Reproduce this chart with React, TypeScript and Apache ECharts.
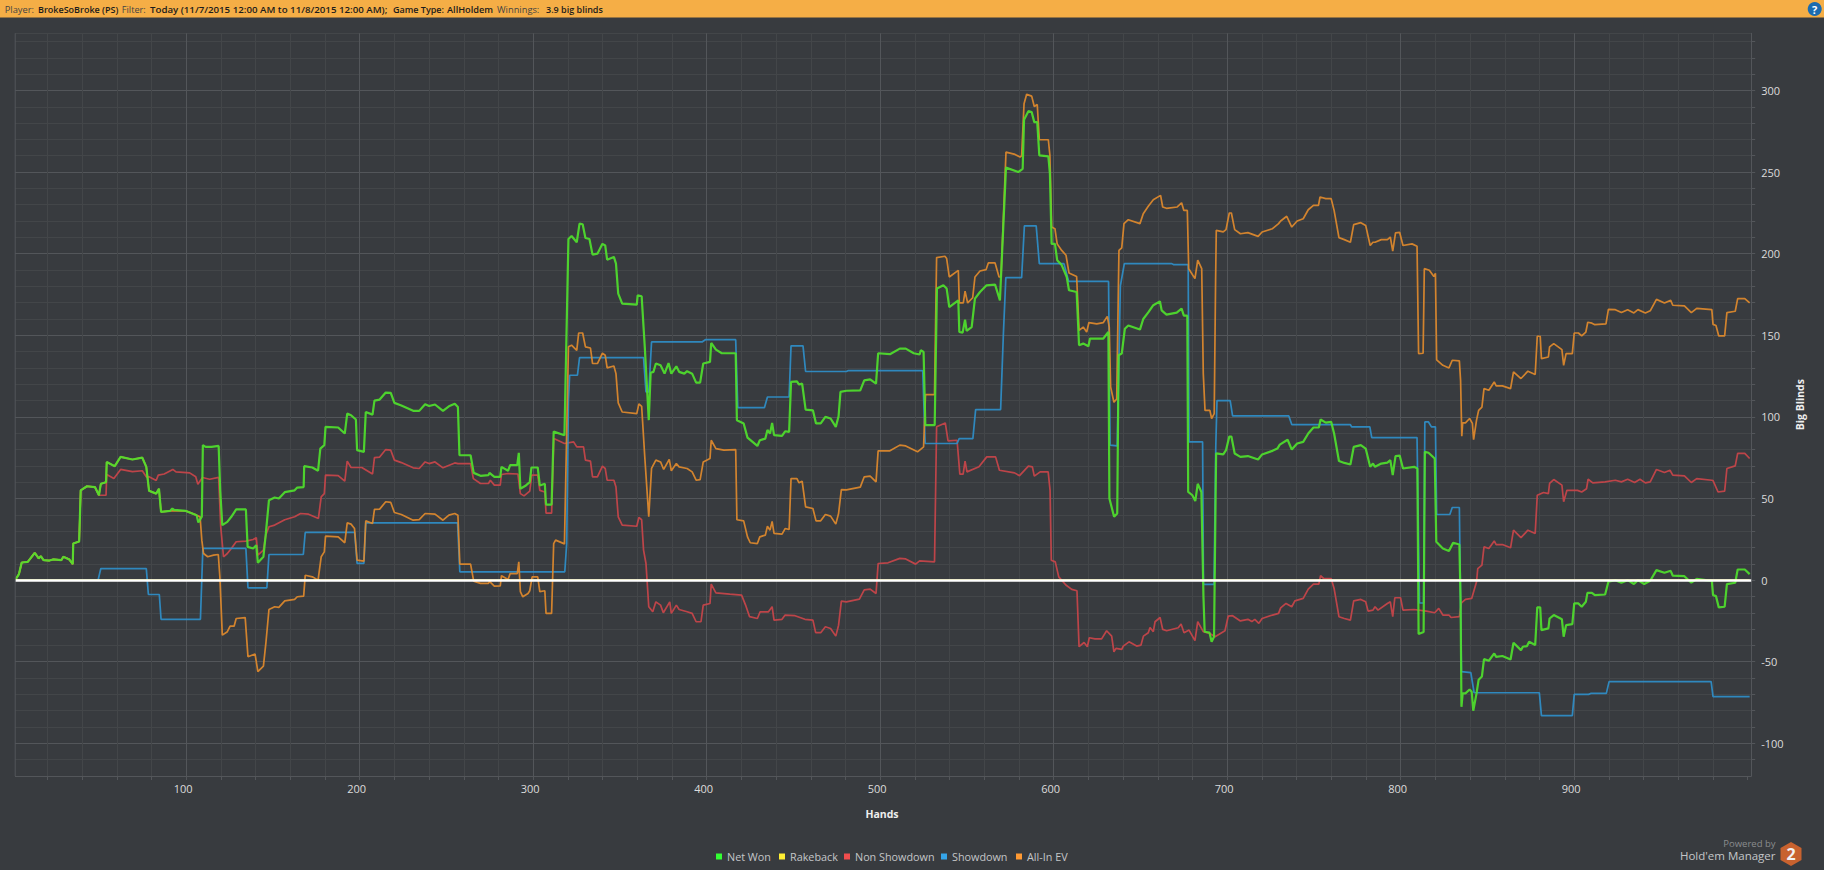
import React, { useEffect, useRef } from "react";
import * as echarts from "echarts";

const BG = "#383b3f";
const FONT = "'Open Sans', 'Noto Sans', sans-serif";

const netWon: number[][] = [[1.4,0],[3.6,3.7],[5.2,10.8],[8.7,11.2],[12.7,16.7],[15,13.3],[16.2,14.7],[17.8,12.2],[21.2,12],[23.5,12.7],[28,12.2],[29.2,14.3],[32.6,12.7],[34.6,9.8],[34.9,22.4],[38.3,23.7],[39.2,55],[42.8,57.5],[47.4,57],[49.7,52],[50.8,59],[53.8,60],[54.2,72.4],[58.8,69.8],[62.2,75.5],[69,73.9],[74.7,75],[77,69.4],[78.6,54.7],[82.7,53],[84.3,56],[85.5,41.8],[90.7,42.4],[92,43.9],[93,43],[99.8,42.4],[106,39.8],[107,35.3],[109,38.8],[109.6,82.7],[111.2,81.6],[114.6,81.6],[118.7,82.2],[119.6,55],[120.8,33.7],[123.7,35.7],[126,38.8],[128.8,43.3],[134.4,43.3],[135.4,20.4],[138.6,19.4],[140.4,21.4],[141.3,10.6],[144.5,14.3],[145.9,28.6],[147.7,49],[151,50.6],[153.4,50],[156.8,53.9],[162.5,55],[164,56.7],[167.7,57],[168,69.8],[172.7,69],[176,67],[177.3,80.6],[179.6,82.7],[180.3,93.9],[187.6,93.5],[191.4,89.8],[192.8,102],[195,101],[197.8,98.4],[198.5,79.6],[202.4,78.6],[203.5,103],[207.4,101.4],[208.5,110],[211.5,110.6],[215,114.9],[217.9,114.7],[220,108.6],[224,107],[230.8,103.7],[234.3,103.7],[237.7,107.8],[240,106.7],[243.4,107.6],[248,103.7],[251.4,106.5],[254.8,108],[256.6,106],[257.5,76.5],[263.9,76.5],[265.7,65.7],[269.6,63.9],[274.2,64.3],[274.8,65.7],[277.6,63.3],[281,63.3],[281.7,69.4],[285.5,67],[286.7,70.4],[290.8,70.4],[291.7,78],[292.6,56],[295.8,58],[298,60],[299,69],[302.6,69],[303.8,58],[306.7,59],[307.4,46.3],[310.6,46.3],[311.8,91],[318,88.8],[320.3,209],[322.1,210.8],[325.1,207],[326.7,218.4],[328.5,218],[330.1,209.6],[332.4,209],[334.2,199.4],[337,200],[339.9,206],[341.5,205],[342.6,196.3],[346.5,198],[347.7,193.9],[349,175.5],[351.3,169.4],[359.7,168.8],[360.2,174.5],[362.5,173.9],[364.3,142.9],[366.6,98],[367.7,127],[369.3,127.6],[370.7,132.7],[373.4,131.6],[375.7,126.5],[378,133],[379.6,126.5],[382.5,131],[384.1,127.6],[387.1,126.5],[388.7,128],[391.6,126.5],[393.9,121],[396.2,121],[398,132.7],[401.9,133.7],[402.6,145.3],[405.3,141.2],[408.7,139],[416.7,139],[417.4,98],[421.3,96],[423.5,87.3],[429.2,82.2],[430.6,85.7],[433.8,86.7],[435,92],[436.5,89.8],[437.7,96.3],[438.8,88.8],[443.4,88.4],[445.2,91.2],[447.5,90.8],[448.6,121.4],[452,121.8],[453.2,119.8],[455,120.4],[457,104.5],[461.2,104],[463,96],[465.7,96],[468.4,100],[471.4,99],[474.4,93.9],[476,100.4],[477.1,115.3],[480.5,116],[488.5,116.3],[490.8,122.4],[494.2,123],[497.6,120.4],[498.8,139],[505.6,138.4],[511.3,141.8],[514.7,141.8],[519.3,139],[522.7,138.2],[523.4,140.8],[525,139.8],[526,94.9],[531.4,94.9],[532.7,178.6],[536.4,180.6],[538.3,178.6],[539.8,167.3],[545,171.4],[545.6,152],[547.5,151.6],[548.9,159.6],[549.8,152.7],[552.7,155],[554.6,172.4],[557.5,176.5],[561.3,180.6],[566.2,181],[569,171.4],[572.5,252.7],[579.6,250],[582.1,252],[582.9,282],[585.4,287.3],[587.3,286.7],[588.8,280.6],[590.5,280.6],[591.7,260.2],[596.9,259.6],[597.8,249],[598.8,206],[600.7,206],[602,196],[604.6,193],[607.5,185.7],[608.8,177.6],[613.2,176.5],[614.6,143.9],[617,144.9],[620,143.3],[620.9,148],[624.8,148],[628.6,148],[631.5,152],[632.1,50],[634.8,38.8],[636.6,40.8],[637.4,137.8],[639.2,138.8],[641,154],[643,156],[649.7,153.5],[651.6,160],[654.5,164],[657.4,168.4],[661.2,170.8],[662.2,165.3],[665,162.7],[670.9,163.9],[673.7,166.3],[675,162],[677,162],[677.5,54],[679.9,52],[681.6,48.4],[683,59],[685.1,54],[686.3,-10],[687,-31.6],[689.8,-32.2],[691,-37.8],[692.4,-34.7],[693.6,77.6],[697.7,77],[699.3,79.6],[701.2,88],[702.4,88],[704.3,77.6],[707.6,75.5],[711.9,76],[717.8,73.9],[720.1,77],[726.1,79.2],[728.9,80.6],[730.3,83],[734.8,86],[737.2,80],[740.3,83.7],[743.8,84.7],[746.7,89.8],[749.7,93.5],[752.8,93.5],[753.8,98.4],[756.8,96.5],[759.9,97],[761.6,89.8],[764.4,73],[767.5,71.8],[771,70.8],[772.9,81.6],[777,82.7],[779.8,80.6],[782.4,69.4],[784,71.4],[785.2,69.4],[788.8,71.4],[792.3,72],[794,73.5],[795.4,64.3],[797,76],[799.4,76.3],[801.3,68.4],[807.7,69.4],[809.6,68.4],[810.3,-33],[813.2,-31.8],[813.9,78.6],[816,78],[819.6,74.5],[820.5,23.5],[824.3,19.4],[827.8,17.8],[830.2,22.9],[833.8,21.8],[834.5,-12],[835,-77.6],[835.7,-69.4],[837.3,-69.4],[839.7,-67],[840.9,-68.4],[841.8,-80],[843.7,-69.4],[844.9,-61],[846.8,-59],[848,-48.4],[850.8,-49.4],[853.9,-44.9],[855,-47],[858.6,-46.5],[863.3,-48.6],[865,-38.4],[869.3,-42.9],[870.4,-40.8],[872.8,-40.4],[874,-37.8],[877.5,-39.8],[878.7,-16.7],[880.4,-16.7],[881.1,-30.6],[885.1,-29.6],[885.8,-23.5],[888.2,-21.4],[892.9,-24],[893.9,-34.7],[895.3,-27.6],[898.9,-27],[900,-14.3],[902.4,-14.3],[904.3,-16.3],[906.7,-13.3],[907.6,-7.8],[910.2,-7.8],[911.9,-9.2],[917.8,-8.8],[919.7,-1],[923.7,0],[927.2,-1.6],[930.8,0],[934.4,-2.4],[936.7,0],[940.3,-2.4],[943.8,-0.4],[947.4,6.1],[952,4.5],[955.6,5.7],[956.8,2.7],[963.5,2.4],[967.5,-1.6],[970.6,0.8],[975.8,0],[979.3,-0.4],[980,-9.2],[981.7,-9.8],[983.3,-16.7],[986.7,-16.3],[988,-2.4],[992.8,-1.6],[994.2,6.5],[998.3,6.5],[1001.1,3.7]];

const nonShowdown: number[][] = [[1.4,0],[3.6,3.7],[5.2,10.8],[8.7,11.2],[12.7,16.7],[15,13.3],[16.2,14.7],[17.8,12.2],[21.2,12],[23.5,12.7],[28,12.2],[29.2,14.3],[32.6,12.7],[34.6,9.8],[34.9,22.4],[38.3,23.7],[39.2,55],[42.8,57.5],[47.4,57],[49.7,52],[53.8,52],[54.2,64.7],[58.3,62.2],[62.2,67.8],[69,66.5],[74.7,67],[77,63.3],[78.6,63.3],[82.7,61],[83.9,64.3],[87.3,65],[92.3,67.8],[94.1,66.3],[102,65.7],[105.5,63.3],[106.7,58.8],[109.4,62.9],[113.5,61.8],[118.7,62.9],[119.9,32.7],[121.5,14.3],[123.7,16.3],[126,19.4],[128.8,23.5],[134.4,23.9],[138.6,24.9],[140.4,26],[141.3,15.3],[144.5,18.4],[145.9,27.6],[147.7,32.7],[151,33.7],[156.8,37],[162.5,38.8],[165.9,40.8],[170.5,40.4],[176.2,37.8],[177.8,51],[179.6,53],[180.3,64.3],[187.6,64],[191.4,60.6],[192.8,72.9],[195,69],[201.2,69],[207.4,65],[208.5,75],[211.5,75.4],[215,80],[217.9,79.6],[220,73.5],[224,72],[230.8,68.8],[234.3,68.4],[237.7,72.4],[240,71.4],[243.4,72.4],[248,68.8],[254.8,71.8],[256.6,71.4],[263.9,71.4],[265.5,62.2],[269.6,59.2],[274.2,59.2],[275.3,61.2],[277.6,58.2],[281,58.2],[281.7,64.7],[285.5,65.3],[291.2,65],[292.6,53],[294.7,51.6],[298,54.5],[299.2,64.3],[302.6,64.3],[303.8,55],[306.7,54],[307.4,41],[310.6,41],[311.9,86.7],[318,83.7],[323.3,84.7],[325.1,81.6],[329,81.6],[330.1,73.5],[333,72.9],[334.2,63.3],[337,63.3],[339.9,69.8],[341.5,68.4],[342.6,61.2],[346.5,61.2],[347.7,57],[349,38.8],[351.3,33.7],[359.7,33],[360.9,38.4],[362.5,37],[363.6,18.4],[365,10.2],[366.6,-16.3],[368.9,-19.4],[370.7,-13.3],[373.4,-15.3],[375,-20],[378.7,-13.3],[379.6,-20.4],[382.5,-15.3],[384.1,-18],[388.7,-19.4],[391.6,-20.4],[393.9,-25.5],[396.7,-25.5],[398,-15.3],[401.9,-14.3],[402.6,-2.4],[405.3,-7.8],[413.3,-8.6],[420.1,-9.2],[422.4,-15.3],[424.7,-22.4],[429.2,-23.5],[430.8,-19.4],[435.6,-19.4],[437.7,-16.3],[438.8,-24.5],[443.4,-24],[445.2,-21.4],[450.9,-21.8],[456.6,-24],[461.2,-24.5],[462.8,-32.2],[465.7,-32.2],[468.4,-28.6],[471.4,-29.6],[474.4,-34.3],[476,-27.6],[477.6,-12.9],[480.5,-13.3],[488,-11.6],[490.8,-6],[494.2,-5.5],[497.6,-8.2],[498.8,10.2],[504.5,10.6],[511.3,13.3],[514.7,13],[520.4,9.8],[522.7,11.8],[531.3,11.2],[532.5,93.9],[537.5,96.3],[539.1,85.3],[544.3,85.7],[545.9,64.9],[547.8,64.9],[548.9,72.9],[550,66.3],[556.9,69.4],[561.4,75.5],[566.5,75.5],[568.7,67.3],[577.4,65.7],[580.3,64],[585.4,69.8],[587.7,69.4],[588.8,63.7],[592.2,66.3],[596.8,66.3],[597.9,55],[598.6,12.2],[600.9,11.2],[602.9,2],[607,-3],[610.4,-5.7],[613.4,-6.5],[614.6,-40.8],[617.5,-38.2],[619.4,-40.8],[620.5,-35.3],[623.8,-36],[627.6,-36],[630.5,-31],[633.4,-34.3],[634.7,-43.9],[635.9,-41.8],[639.2,-42.4],[640.1,-40.4],[643.4,-37.8],[647.8,-40.4],[650.3,-39.8],[651.7,-34.3],[654.5,-32.2],[655.5,-29],[657.4,-31.6],[658.4,-25.5],[661.3,-22.9],[662.8,-30.2],[665.1,-31],[671.8,-29.2],[673.4,-26.9],[675.1,-32.2],[678,-30.6],[681.4,-37.1],[683,-25.5],[686.2,-31.6],[690,-32.7],[693,-34.7],[696.8,-32.2],[698.7,-31],[700.6,-22],[703.1,-21.8],[707.6,-25],[711.9,-24],[714.2,-25.4],[715.9,-24],[718.2,-26.5],[720.1,-23.5],[726.1,-21.4],[729.6,-20.4],[730.8,-17],[733.9,-14.3],[737.2,-16.3],[739,-12.7],[743.8,-11.2],[746.7,-5.5],[749.7,-2.4],[752.8,-2.4],[753.8,2.7],[755.6,1],[759.9,1],[761.6,-5.1],[764.4,-22.4],[767.5,-23.5],[771,-24.5],[772.9,-12.7],[777,-11.8],[779.8,-13.3],[781.2,-19],[784,-18.4],[785.2,-16.3],[786.9,-18.4],[792.3,-14.3],[794,-13.3],[795.4,-22.4],[796.6,-10.8],[799.9,-10.8],[801.3,-18.4],[807.7,-18],[814.8,-19],[819.6,-20],[821.9,-17.3],[824.3,-21.4],[827.8,-21.4],[829,-22.9],[833.8,-22.4],[835,-13.9],[837.3,-11.8],[840.9,-11.2],[843.7,-1],[844.4,7.1],[846.8,9.2],[848,20.4],[850.8,19.4],[853.9,24],[855,21.8],[858.6,21.8],[863.3,19.8],[865,30.6],[869.3,26],[873.3,30.6],[877.5,28.6],[878.7,52],[882.3,53.7],[885.1,53],[885.8,59.2],[888.2,61.6],[892.9,58.2],[893.9,48],[895.8,55],[901.9,55],[904.3,54],[907.1,56],[908,61.8],[910.7,59.6],[917.8,60.2],[923.7,61.2],[927.2,60.2],[930.8,61.8],[934.8,59.8],[937.9,61.8],[941,59.6],[943.8,60.2],[947.4,67.8],[952,65.9],[955.2,67.3],[956.8,64.3],[963.5,63.9],[967.5,59.8],[970.6,62.2],[979.3,61.2],[980,61],[982.9,54],[986.7,54.5],[988,68.4],[992.8,70],[994.2,77.6],[998.3,77.6],[1001.1,74.5]];

const showdown: number[][] = [[1.4,0],[49.2,0],[50.8,7.1],[77,7.1],[78.2,-8.8],[84.5,-8.8],[85.5,-24],[108.2,-24],[109.6,19.4],[134.4,19.4],[135.6,-4.7],[146.5,-4.7],[147.7,15.7],[167.5,15.7],[168.6,29.2],[197.1,29.2],[198.5,10.2],[202.4,10.2],[203.5,35.1],[256.4,35.1],[257.7,5.1],[318.2,5.1],[319.3,22.4],[320.3,110],[321,125.5],[325.5,125.5],[326.7,136.3],[363.6,136.3],[365,115.3],[366.6,115.3],[368.2,145.9],[397.3,145.9],[399.2,147.3],[416.7,147.3],[417.9,105.7],[433.3,105.7],[435,112.2],[447.5,112.2],[448.6,143.5],[455.5,143.5],[457,127.8],[480.5,127.8],[481.7,128.4],[524.5,128.4],[525.9,83.7],[544.3,83.7],[545.5,86.7],[553.4,86.7],[555,104.5],[569.4,104.5],[571,151],[572.4,185.3],[581.5,185.3],[583.1,217],[589.9,217],[591.7,193.9],[605.9,193.9],[608.6,183],[631.6,183],[632.5,82.7],[636.6,82.2],[638.4,180.2],[640.7,193.9],[668,193.9],[669,193.3],[677.5,193.3],[678,84.7],[685.8,84.7],[686.3,-2.6],[692.4,-2.6],[693.4,81.6],[694.1,110],[701.7,110],[703.1,100.6],[735.5,100.6],[737.2,95.3],[771,95.3],[771.7,93.9],[782.2,93.9],[783.3,87.3],[809.4,87.3],[810.8,-14],[813.2,-14],[813.9,96.9],[816,96.9],[817.7,93.9],[820,93.9],[820.7,40.2],[828.3,40.2],[829.7,44.5],[833.8,44.5],[835,-56],[840.4,-56.7],[842.3,-69],[879.9,-69],[881.1,-83],[898.9,-83],[900,-70],[908.3,-70],[909.5,-69.4],[918.5,-69.4],[920.1,-62.2],[978.9,-62.2],[980,-71.4],[1001.1,-71.4]];

const allInEV: number[][] = [[1.4,0],[3.6,3.7],[5.2,10.8],[8.7,11.2],[12.7,16.7],[15,13.3],[16.2,14.7],[17.8,12.2],[21.2,12],[23.5,12.7],[28,12.2],[29.2,14.3],[32.6,12.7],[34.6,9.8],[34.9,22.4],[38.3,23.7],[39.2,55],[42.8,57.5],[47.4,57],[49.7,52],[50.8,59],[53.8,60],[54.2,72.4],[58.8,69.8],[62.2,75.5],[69,73.9],[74.7,75],[77,69.4],[78.6,54.7],[82.7,53],[84.3,56],[85.5,41.8],[90.7,42.4],[99.8,42.4],[106,39.8],[108,38.8],[109,24.5],[110,16.3],[112.4,14.3],[115.8,15.3],[118.5,15.7],[119.4,2],[120.8,-33.7],[123.7,-31.6],[125.3,-28.2],[127.6,-28.2],[128.8,-23.5],[134,-23],[135.6,-46.9],[139.7,-45.3],[141.3,-56],[144.5,-52.7],[145.9,-38.8],[147.7,-18],[151,-16.3],[153.4,-16.7],[156.8,-12.7],[162.5,-11.8],[164,-10.2],[167.7,-9.8],[168.6,3],[172.7,2],[176,0],[177.8,14.3],[179.6,17.3],[180.3,26.9],[187.6,26.5],[191.4,22.9],[192.8,35.1],[195,34.3],[197,31.6],[198.5,12.2],[202.4,11.6],[203.5,36.3],[207.4,34.7],[208.5,43.3],[211.5,43.5],[215,48],[217.9,47.6],[220,41.4],[224,40.2],[230.8,36.7],[234.3,37.1],[237.7,40.8],[243.4,40.4],[248,36.7],[251.4,39.8],[254.8,40.8],[256.6,39.8],[257.7,9.8],[263.9,9.8],[265.7,-0.6],[269.6,-2],[274.2,-2],[274.8,-0.8],[277.6,-3.7],[281,-3.5],[281.7,2.7],[285.5,0.4],[286.7,4],[290.8,4],[291.7,11.2],[292.6,-7],[294,-10.2],[297,-8.2],[298,-6.5],[299.4,2],[302.6,2],[303.8,-7],[306.7,-6.5],[307.4,-20.4],[310.6,-20.4],[311.8,22.4],[312.9,24.5],[318,22.2],[320.3,142.9],[322.1,143.9],[325.1,140.8],[326.2,151.4],[328.5,151.4],[330.1,142.9],[333,142.2],[334.2,132.7],[337,132.7],[339.9,139],[341.5,137.8],[342.6,130],[346.5,131.2],[347.7,126.5],[349,108.6],[351.3,103],[359.7,102],[360.9,108],[362.5,106.5],[364.3,75.5],[366.6,38.8],[368.2,68.4],[370.7,73.5],[373.4,72.4],[375.2,67.8],[378.4,74],[379.6,67],[382.5,71.4],[384.1,69.4],[388.7,68.4],[391.6,66.3],[393.9,61.2],[396.2,61.6],[398,72.4],[401.9,74.5],[402.6,85.7],[405.3,80.6],[409.9,79.6],[416.7,80],[417.4,37],[421.3,36.3],[423.5,26.5],[425.1,22.9],[429.2,22.4],[430.6,26.5],[433.8,27.6],[435,33],[436.5,30.6],[437.7,36],[438.8,28.6],[443.4,28.2],[445.2,31.6],[447.5,31],[448.6,62.2],[452,62.2],[453.2,59.6],[455,60.6],[457,44.9],[461.2,43.9],[463,36.3],[465.7,36.3],[468.4,40.2],[471.4,39.2],[474.4,34.3],[476,40.8],[477.6,55.5],[480.5,55.3],[488.5,57],[490.8,63.3],[494.2,63.7],[497.6,60.2],[498.8,79.2],[505.6,79.2],[511.3,82.7],[514.7,82.2],[521.5,78.6],[523.8,80.6],[525,81.6],[526.1,113.7],[531.3,113.7],[532.5,197.6],[537.3,198.4],[538.3,197],[539.8,185.7],[545,189.8],[545.6,169.8],[547.9,169.8],[548.9,177],[550.4,169.8],[553.3,173],[554.6,185.7],[557.5,189.4],[561,190.2],[562.3,194.3],[566.2,194.3],[568.5,185.7],[569.6,185.7],[572.5,262.2],[577.7,260.8],[580.6,259.2],[581.5,260],[582.9,291.8],[584.4,297.6],[587.3,296.5],[588.8,290.2],[590.5,291.4],[591.7,269.8],[596.9,269.8],[597.8,260.2],[598.8,216.3],[600.7,215.3],[602,206],[604.6,202],[607.1,199],[608.8,188.2],[613.2,186],[614.6,153],[617,155],[619,152],[620.3,157.8],[624.8,157],[628.6,157.8],[630.9,161.6],[632,155],[632.8,118.4],[634.7,109],[636.3,111],[637.6,202],[639.2,203.5],[640.5,218.4],[643,220.8],[649.7,218.4],[651.6,224.5],[654.5,229],[657.4,233],[661.6,235.7],[662.8,228.6],[665,227.8],[671.2,228.6],[673.7,231.2],[675,226.5],[677,226.5],[677.8,190.8],[681.4,184.7],[683,196],[685.3,190.8],[686.2,126.5],[687.2,104],[690,104],[691,99],[692.5,102],[693.3,183.7],[693.7,214.3],[697.7,213.3],[699.3,214.7],[701.2,224.9],[702.4,224.9],[704.3,214.7],[707.6,212.2],[711.9,212.9],[717.8,210.6],[720.1,213.3],[726.1,215.3],[729.6,218.4],[730.8,220],[734.3,222.9],[737.2,216.3],[740.3,220],[743.8,221.4],[746.7,226.9],[749.7,229.6],[752.6,229.6],[753.5,234.7],[756.8,233.7],[759.9,233.7],[761.6,226.5],[764.4,209.8],[767.5,208.6],[771,207],[772.9,217.8],[777,219],[779.8,217.3],[782.4,205],[784,207],[785.2,207],[788.8,208.6],[792.3,208.6],[794,210.2],[795.4,201.6],[797,212.7],[799.4,213],[801.3,205],[806.5,206],[809.4,204.5],[810.3,138.8],[812.9,139],[813.6,190.8],[816.5,189.8],[819.1,186],[820,188],[820.7,135],[824.3,131.6],[827.8,130],[829.7,134.7],[833.8,134.3],[834.5,122.4],[835.2,88.2],[835.7,96.3],[837.3,96.3],[839.7,99],[841.3,96],[842,86],[843.7,98],[844.9,104],[846.8,106],[848,117.3],[850.8,116.3],[853.9,121.4],[855,119],[858.6,119],[863.3,117.3],[865,127.6],[869.3,123.5],[873.3,128],[877.5,126],[878.7,149.4],[880.4,149.4],[881.1,135.7],[885.1,136.7],[885.8,142.9],[888.2,144.9],[892.9,141.2],[893.9,131.6],[895.3,138.8],[898.9,138.8],[900,151.4],[902.4,151.4],[904.3,149.6],[906.7,152],[907.8,158],[910.2,157.4],[911.9,156.5],[918.3,157],[919.7,165.9],[923.7,165.7],[927.2,163.9],[930.8,165.7],[934.4,163.7],[936.7,165.7],[941,163.7],[943.8,165],[947.4,172],[952,169.8],[955.6,171.4],[956.8,168.4],[963.5,168],[967.5,163.9],[970.6,166.5],[979.3,165.7],[980,156.7],[981.7,156],[983.3,149.6],[986.7,149.6],[988,163.9],[992.8,164.7],[994.2,172.4],[998.3,172.4],[1001.1,169.8]];

const rakeback: number[][] = [[1.4,0],[1001.1,0]];

const legendNames = ["Net Won", "Rakeback", "Non Showdown", "Showdown", "All-In EV"];
const xTickLabels = [100, 200, 300, 400, 500, 600, 700, 800, 900];
const yTickLabels = [-100, -50, 0, 50, 100, 150, 200, 250, 300];
const headerTexts = ["Player:", "BrokeSoBroke (PS)", "Filter:", "Today (11/7/2015 12:00 AM to 11/8/2015 12:00 AM);", "Game Type:", "AllHoldem", "Winnings:", "3.9 big blinds"];

// Layout only
const legendLefts = [716, 779, 844, 941, 1016];
const headerX = [4.7, 38, 121.8, 150, 393, 447, 497, 546];
const headerSize = [9.3, 9, 9.2, 9.7, 9, 9.2, 9.3, 9];
const headerBold = [false, true, false, true, true, true, false, true];

const MAJOR = "#53565a";
const MINOR = "#434649";

// Colour per x grid line, index 0 = hand 0; no grid line at hand 1000 in the reference.
const xSplitColors = Array.from({ length: 52 }, (_, i) => (i === 50 ? "rgba(0,0,0,0)" : i % 5 === 0 ? MAJOR : MINOR));

function lineSeries(name: string, data: number[][], legendColor: string, color: string, width: number, extra: object = {}) {
  return {
    name,
    type: "line",
    data,
    showSymbol: false,
    symbol: "none",
    smooth: false,
    silent: true,
    itemStyle: { color: legendColor },
    lineStyle: { color, width, opacity: 0.92 },
    ...extra,
  };
}

export default function App() {
  const ref = useRef<HTMLDivElement>(null);
  useEffect(() => {
    document.body.style.margin = "0";
    document.body.style.overflow = "hidden";
    document.body.style.background = BG;
    const chart = echarts.init(ref.current!, undefined, { renderer: "svg" });
    chart.setOption({
      animation: false,
      backgroundColor: BG,
      textStyle: { fontFamily: FONT },
      grid: { left: 12.7, top: 33.3, width: 1738.5, height: 742.7, containLabel: false },
      legend: legendNames.map((name, i) => ({
        data: [name],
        left: legendLefts[i],
        top: 851,
        icon: "rect",
        itemWidth: 6,
        itemHeight: 6,
        selectedMode: false,
        padding: 0,
        textStyle: { color: "#c4c6c8", fontSize: 10.8, fontFamily: FONT },
      })),
      xAxis: {
        type: "value",
        min: 0,
        max: 1002,
        interval: 20,
        name: "Hands",
        nameLocation: "middle",
        nameGap: 32,
        nameTextStyle: { color: "#eeeeee", fontSize: 10.5, fontWeight: "bold", fontFamily: FONT },
        axisLine: { show: true, onZero: false, lineStyle: { color: MAJOR } },
        axisTick: { show: true, length: 4, lineStyle: { color: MAJOR } },
        axisLabel: {
          color: "#dcdcdc",
          fontSize: 11,
          fontFamily: FONT,
          margin: 7,
          interval: 0,
          hideOverlap: false,
          showMinLabel: false,
          showMaxLabel: false,
          padding: [0, 6, 0, 0],
          formatter: (v: number) => (xTickLabels.includes(v) ? String(v) : ""),
        },
        splitLine: { show: true, lineStyle: { color: xSplitColors, width: 1 } },
      },
      yAxis: {
        type: "value",
        position: "right",
        min: -120,
        max: 335,
        interval: 10,
        name: "Big Blinds",
        nameLocation: "middle",
        nameGap: 41,
        nameRotate: 90,
        nameTextStyle: { color: "#eeeeee", fontSize: 10.5, fontWeight: "bold", fontFamily: FONT },
        axisLine: { show: true, onZero: false, lineStyle: { color: MAJOR } },
        axisTick: { show: true, length: 4, lineStyle: { color: MAJOR } },
        axisLabel: {
          color: "#dcdcdc",
          fontSize: 11,
          fontFamily: FONT,
          margin: 10,
          interval: 0,
          hideOverlap: false,
          showMinLabel: false,
          showMaxLabel: false,
          padding: [0, 0, 3, 0],
          formatter: (v: number) => (yTickLabels.includes(v) ? String(v) : ""),
        },
        splitLine: { show: true, lineStyle: { color: [MINOR, MINOR, MAJOR, MINOR, MINOR], width: 1 } },
      },
      series: [
        lineSeries("Non Showdown", nonShowdown, "#f04d4d", "#c9454a", 1.7),
        lineSeries("Showdown", showdown, "#35a4e8", "#2f8fc9", 1.7),
        lineSeries("All-In EV", allInEV, "#ff9a33", "#e08a2c", 1.7),
        lineSeries("Net Won", netWon, "#33ff33", "#4fe02c", 2.2),
        lineSeries("Rakeback", rakeback, "#ffee33", "#e8d92e", 1.5, {
          markLine: {
            silent: true,
            symbol: "none",
            label: { show: false },
            lineStyle: { color: "#ffffff", width: 2.5, type: "solid" },
            data: [{ yAxis: 0 }],
          },
        }),
      ],
      graphic: [
        { type: "rect", z: 100, shape: { x: 0, y: 30, width: 15, height: 750 }, style: { fill: BG } },
        { type: "line", z: 100, shape: { x1: 15.2, y1: 33.3, x2: 15.2, y2: 776 }, style: { stroke: MAJOR, lineWidth: 1 } },
        { type: "rect", z: 100, shape: { x: 0, y: 0, width: 1824, height: 17.5 }, style: { fill: "#f5ae46" } },
        ...headerTexts.map((text, i) => ({
          type: "text",
          z: 101,
          x: headerX[i],
          y: 9,
          style: {
            text,
            fill: headerBold[i] ? "#1c1c1c" : "#444444",
            font: `${headerBold[i] ? "600" : "400"} ${headerSize[i]}px 'Open Sans'`,
            verticalAlign: "middle",
          },
        })),
        { type: "circle", z: 101, shape: { cx: 1814.7, cy: 9, r: 7 }, style: { fill: "#1c6cb0" } },
        {
          type: "text",
          z: 102,
          x: 1814.7,
          y: 9,
          style: { text: "?", fill: "#ffffff", font: "bold 11px 'Open Sans'", align: "center", verticalAlign: "middle" },
        },
        {
          type: "text",
          x: 1775.5,
          y: 843.7,
          style: { text: "Powered by", fill: "#8a8c8e", font: "9.5px 'Open Sans'", align: "right", verticalAlign: "middle" },
        },
        {
          type: "text",
          x: 1775.5,
          y: 855.3,
          style: { text: "Hold'em Manager", fill: "#c4c6c8", font: "11.5px 'Open Sans'", align: "right", verticalAlign: "middle" },
        },
        {
          type: "polygon",
          shape: { points: [[1791, 842], [1801.5, 848], [1801.5, 860], [1791, 866], [1780.5, 860], [1780.5, 848]] },
          style: { fill: "#c8622f" },
        },
        {
          type: "text",
          x: 1791,
          y: 854,
          style: { text: "2", fill: "#f2f2f2", font: "bold 16px 'Open Sans'", align: "center", verticalAlign: "middle" },
        },
      ],
    });
    return () => chart.dispose();
  }, []);
  return <div ref={ref} style={{ width: 1824, height: 870 }} />;
}
